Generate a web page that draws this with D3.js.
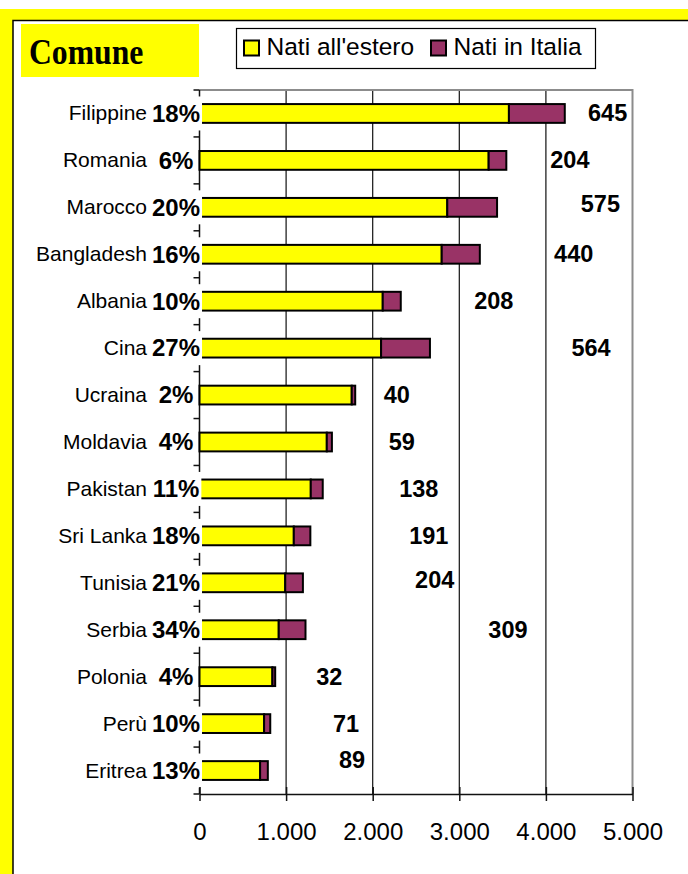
<!DOCTYPE html>
<html>
<head>
<meta charset="utf-8">
<script src="https://cdn.jsdelivr.net/npm/d3@7"></script>
<style>
  body { margin: 0; background: white; }
  svg { display: block; }
</style>
</head>
<body>
<svg id="BarChart"></svg>
<script>
// categories, top to bottom
var categories = ["Filippine", "Romania", "Marocco", "Bangladesh", "Albania", "Cina", "Ucraina", "Moldavia",
                  "Pakistan", "Sri Lanka", "Tunisia", "Serbia", "Polonia", "Perù", "Eritrea"]
var natiEstero = [3573, 3339, 2861, 2797, 2116, 2097, 1758, 1470, 1285, 1089, 990, 915, 842, 746, 700]
var natiItalia = [645, 204, 575, 440, 208, 564, 40, 59, 138, 191, 204, 309, 32, 71, 89]
var quota = ["18%", "6%", "20%", "16%", "10%", "27%", "2%", "4%", "11%", "18%", "21%", "34%", "4%", "10%", "13%"]
// where the "nati in Italia" numbers sit, in axis units (as in the original sheet)
var labelAt = [4713, 4277, 4629, 4321, 3398, 4522, 2278, 2335, 2533, 2648, 2716, 3562, 1499, 1693, 1762]
var labelShift = [0, 0, -3, 0, 0, 0, 0, 0, 0, 0, -3, 0, 0, 0, -11]
var xTicks = [0, 1000, 2000, 3000, 4000, 5000]
var seriesNames = ["Nati all'estero", "Nati in Italia"]
var seriesColors = ["#FFFF00", "#993366"]

var dimensions = {
    width: 688,
    height: 874,
    margin: { top: 90, bottom: 80, left: 199.5, right: 55.5 }
}

var data = categories.map((c, i) => ({
    paese: c,
    estero: natiEstero[i],
    italia: natiItalia[i],
    quota: quota[i],
    labelAt: labelAt[i],
    shift: labelShift[i]
}))

var svg = d3.select("#BarChart")
            .attr("width", dimensions.width)
            .attr("height", dimensions.height)
            .style("font-family", "'Liberation Sans', Arial, sans-serif")

// yellow frame
svg.append("rect").attr("x", 0).attr("y", 9).attr("width", 688).attr("height", 865).attr("fill", "#FFFF00")
svg.append("rect").attr("x", 13).attr("y", 20).attr("width", 675).attr("height", 854).attr("fill", "white")
svg.append("path").attr("d", "M13,874V20.5H688").attr("fill", "none").attr("stroke", "black").attr("stroke-width", 1.5)

// title box
svg.append("rect").attr("x", 21).attr("y", 24).attr("width", 178).attr("height", 53).attr("fill", "#FFFF00")
svg.append("text")
   .attr("transform", "translate(29,64) scale(0.88,1)")
   .style("font-family", "'Liberation Serif', 'Times New Roman', serif")
   .style("font-weight", "bold")
   .style("font-size", "36px")
   .text("Comune")

var xScale = d3.scaleLinear()
               .domain([0, 5000])
               .range([dimensions.margin.left, dimensions.width - dimensions.margin.right])

var yScale = d3.scaleBand()
               .domain(categories)
               .range([dimensions.margin.top, dimensions.height - dimensions.margin.bottom])
               .paddingInner(0.6)
               .paddingOuter(0.3)

var plotBottom = dimensions.height - dimensions.margin.bottom

// gridlines
svg.append("g")
   .selectAll("line")
   .data(xTicks.slice(1, -1))
   .enter()
   .append("line")
   .attr("x1", d => xScale(d)).attr("x2", d => xScale(d))
   .attr("y1", dimensions.margin.top).attr("y2", plotBottom)
   .attr("stroke", "#111")
   .attr("stroke-width", 1.2)

// gray plot border top and right
svg.append("path")
   .attr("d", `M${xScale(0)},${dimensions.margin.top}H${xScale(5000)}V${plotBottom}`)
   .attr("fill", "none")
   .attr("stroke", "#8c8c8c")
   .attr("stroke-width", 2)

// y axis with ticks between categories
var yAxis = svg.append("g")
yAxis.append("line")
     .attr("x1", xScale(0)).attr("x2", xScale(0))
     .attr("y1", dimensions.margin.top).attr("y2", plotBottom)
     .attr("stroke", "#111").attr("stroke-width", 1.5)
yAxis.selectAll(".tk")
     .data(d3.range(categories.length + 1))
     .enter()
     .append("line")
     .attr("x1", xScale(0) - 6).attr("x2", xScale(0))
     .attr("y1", i => yScale.range()[0] + i * yScale.step())
     .attr("y2", i => yScale.range()[0] + i * yScale.step())
     .attr("stroke", "#111").attr("stroke-width", 1.5)

// stacked bars
var stack = d3.stack().keys(["estero", "italia"])(data)

svg.append("g")
   .selectAll("g")
   .data(stack)
   .enter()
   .append("g")
   .attr("fill", (d, i) => seriesColors[i])
   .selectAll("rect")
   .data(d => d)
   .enter()
   .append("rect")
   .attr("x", d => xScale(d[0]))
   .attr("y", d => yScale(d.data.paese))
   .attr("width", d => xScale(d[1]) - xScale(d[0]))
   .attr("height", yScale.bandwidth())
   .attr("stroke", "black")
   .attr("stroke-width", 2)

// category labels
var cy = d => yScale(d.paese) + yScale.bandwidth() / 2

svg.append("g")
   .selectAll("text")
   .data(data)
   .enter()
   .append("text")
   .attr("x", 147)
   .attr("y", d => cy(d) + 7)
   .attr("text-anchor", "end")
   .style("font-size", "21px")
   .text(d => d.paese)

var pctGroups = svg.append("g")
                   .selectAll("g")
                   .data(data)
                   .enter()
                   .append("g")

var pctText = pctGroups.append("text")
                       .attr("x", 176)
                       .attr("y", d => cy(d) + 8.3)
                       .attr("text-anchor", "middle")
                       .style("font-size", "24px")
                       .style("font-weight", "bold")
                       .text(d => d.quota)

pctText.each(function(d) {
    var b = this.getBBox()
    d3.select(this.parentNode).insert("rect", "text")
      .attr("x", b.x - 1)
      .attr("y", cy(d) - 17)
      .attr("width", b.width + 3)
      .attr("height", 34)
      .attr("fill", "white")
})

// nati in Italia numbers
svg.append("g")
   .selectAll("text")
   .data(data)
   .enter()
   .append("text")
   .attr("x", d => xScale(d.labelAt))
   .attr("y", d => cy(d) + 8 + d.shift)
   .attr("text-anchor", "middle")
   .style("font-size", "23.5px")
   .style("font-weight", "bold")
   .text(d => d.italia)

// x axis
var it = d3.formatLocale({ decimal: ",", thousands: ".", grouping: [3], currency: ["", "€"] })
var xAxisGen = d3.axisBottom(xScale)
                 .tickValues(xTicks)
                 .tickFormat(it.format(","))
                 .tickSizeInner(7)
                 .tickSizeOuter(0)
var xAxis = svg.append("g")
               .attr("transform", `translate(0,${plotBottom})`)
               .call(xAxisGen)
xAxis.select(".domain").attr("stroke", "#111").attr("stroke-width", 1.5)
xAxis.selectAll(".tick line").attr("y1", -7).attr("stroke", "#111").attr("stroke-width", 1.5)
xAxis.selectAll(".tick text")
     .attr("y", 46)
     .attr("dy", 0)
     .attr("fill", "black")
     .style("font-size", "24px")
     .style("font-family", "'Liberation Sans', Arial, sans-serif")

// legend
var legend = svg.append("g")
legend.append("rect")
      .attr("x", 236.5).attr("y", 28.5).attr("width", 359).attr("height", 40)
      .attr("fill", "white").attr("stroke", "black").attr("stroke-width", 1.2)
var legX = [244, 431]
seriesNames.forEach((name, i) => {
    legend.append("rect")
          .attr("x", legX[i]).attr("y", 40.5).attr("width", 15).attr("height", 15)
          .attr("fill", seriesColors[i]).attr("stroke", "black").attr("stroke-width", 2)
    legend.append("text")
          .attr("x", legX[i] + 22.5).attr("y", 55)
          .style("font-size", "24.5px")
          .text(name)
})
</script>
</body>
</html>
